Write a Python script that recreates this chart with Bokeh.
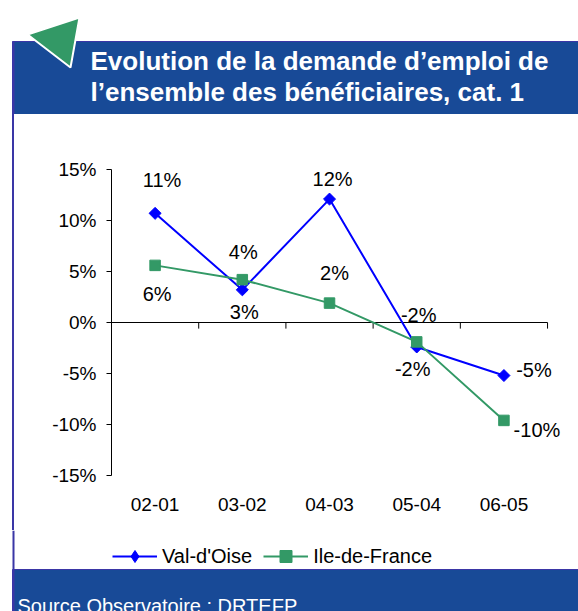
from bokeh.plotting import figure
from bokeh.layouts import column, row
from bokeh.models import (Range1d, FixedTicker, PrintfTickFormatter, Legend, LegendItem,
                          ColumnDataSource, Div)
from bokeh.embed import file_html
from bokeh.resources import INLINE
from bokeh.core.properties import value

# ---- data ----
periods = ["02-01", "03-02", "04-03", "05-04", "06-05"]
val_doise = [10.7, 3.2, 12.1, -2.4, -5.2]
ile_de_france = [5.6, 4.2, 1.9, -1.9, -9.6]
y_ticks = [-15, -10, -5, 0, 5, 10, 15]
title_lines = ["Evolution de la demande d\u2019emploi de",
               "l\u2019ensemble des b\u00e9n\u00e9ficiaires, cat. 1"]
source_text = "Source Observatoire : DRTEFP"

# label placement (pixel offsets, style only)
vdo_dx = [7, 2, 3, -4, 30]
vdo_dy = [-33, 22, -20, 22, -6]
idf_dx = [2, 1, 5, 2, 33]
idf_dy = [29, -28, -30, -27, 10]

BLUE_HDR = "#184A97"
BORDER = "#3A36A6"
LINE_BLUE = "#0000FF"
GREEN = "#339966"
FONT = "Liberation Sans"

W, H = 578, 611
HDR_H = 114
BOT_H = 81
MID_H = H - HDR_H - BOT_H
STRIP_W = 15


def canvas_fig(w, h):
    f = figure(width=w, height=h, x_range=Range1d(0, w), y_range=Range1d(h, 0),
               x_axis_type=None, y_axis_type=None, min_border=0,
               output_backend="svg", toolbar_location=None)
    f.outline_line_color = None
    f.grid.visible = False
    f.background_fill_color = "white"
    f.border_fill_color = "white"
    return f


# ---- header ----
hdr = canvas_fig(W, HDR_H)
hdr.quad(left=12, right=W + 2, top=41, bottom=HDR_H + 2, fill_color=BLUE_HDR,
         line_color=BORDER, line_width=1)
hdr.quad(left=12, right=14, top=41, bottom=HDR_H, fill_color=BORDER, line_color=None)
hdr.patch(x=[27, 79, 70], y=[34, 17, 67], fill_color=GREEN, line_color="white", line_width=2)
hdr.text(x=[90, 90], y=[60, 91], text=title_lines, text_font=value(FONT),
         text_font_style="bold", text_font_size="26px", text_color="white",
         text_baseline="alphabetic", text_align="left")

# ---- left border strip ----
strip = Div(text="", width=STRIP_W, height=MID_H, margin=0,
            styles={"background": "linear-gradient(to right, white 12px, %s 12px, %s 14px, white 14px)"
                                  % (BORDER, BORDER)})

# ---- main chart ----
n = len(periods)
xpos = [i + 0.5 for i in range(n)]
p = figure(width=W - STRIP_W, height=MID_H,
           x_range=Range1d(0, n + 0.355), y_range=Range1d(y_ticks[0], y_ticks[-1]),
           output_backend="svg", toolbar_location=None,
           min_border_left=96, min_border_right=0, min_border_top=55, min_border_bottom=55)
p.outline_line_color = None
p.grid.visible = False
p.background_fill_color = "white"
p.border_fill_color = "white"

ya = p.yaxis[0]
ya.ticker = FixedTicker(ticks=y_ticks)
ya.formatter = PrintfTickFormatter(format="%d%%")
ya.axis_line_color = "black"
ya.major_tick_out = 5
ya.major_tick_in = 0
ya.minor_tick_line_color = None
ya.major_label_standoff = 10
ya.major_label_text_font = FONT
ya.major_label_text_font_size = "19px"
ya.major_label_text_color = "black"

xa = p.xaxis[0]
xa.ticker = FixedTicker(ticks=xpos)
xa.major_label_overrides = {x: lab for x, lab in zip(xpos, periods)}
xa.axis_line_color = None
xa.major_tick_line_color = None
xa.minor_tick_line_color = None
xa.major_label_standoff = 16
xa.major_label_text_font = FONT
xa.major_label_text_font_size = "19px"
xa.major_label_text_color = "black"

# zero line with category boundary ticks
bounds = list(range(n + 1))
p.segment(x0=[0], x1=[n], y0=[0], y1=[0], line_color="black", line_width=1)
p.segment(x0=bounds, x1=bounds, y0=[0] * len(bounds), y1=[-0.6] * len(bounds),
          line_color="black", line_width=1)

vdo_src = ColumnDataSource(dict(x=xpos, y=val_doise,
                                lab=["%d%%" % round(v) for v in val_doise], dx=vdo_dx, dy=vdo_dy))
idf_src = ColumnDataSource(dict(x=xpos, y=ile_de_france,
                                lab=["%d%%" % round(v) for v in ile_de_france], dx=idf_dx, dy=idf_dy))

p.line("x", "y", source=vdo_src, line_color=LINE_BLUE, line_width=2)
p.scatter("x", "y", source=vdo_src, marker="square", angle=0.785398, size=8.5,
          fill_color=LINE_BLUE, line_color=LINE_BLUE)
p.line("x", "y", source=idf_src, line_color=GREEN, line_width=2)
p.scatter("x", "y", source=idf_src, marker="square", size=10.5,
          fill_color=GREEN, line_color=GREEN)

for src in (vdo_src, idf_src):
    p.text("x", "y", text="lab", source=src, x_offset="dx", y_offset="dy",
           text_align="center", text_baseline="middle", text_font=value(FONT),
           text_font_size="20px", text_color="black")

# ---- bottom: legend + footer ----
bot = canvas_fig(W, BOT_H)
bot.quad(left=12, right=14, top=0, bottom=39, fill_color=BORDER, line_color=None)
bot.quad(left=12, right=W + 2, top=39, bottom=BOT_H + 2, fill_color=BLUE_HDR,
         line_color=BORDER, line_width=1)
bot.quad(left=12, right=14, top=39, bottom=BOT_H, fill_color=BORDER, line_color=None)
bot.text(x=[17], y=[64], text=[source_text], text_font=value(FONT), text_font_size="20px",
         text_color="white", text_baseline="top", text_align="left")

# legend keys (hidden renderers sharing the series sources, used only for the legend swatches)
k1l = bot.line("x", "y", source=vdo_src, line_color=LINE_BLUE, line_width=2, visible=False)
k1m = bot.scatter("x", "y", source=vdo_src, marker="diamond", fill_color=LINE_BLUE,
                  line_color=LINE_BLUE, visible=False)
k2l = bot.line("x", "y", source=idf_src, line_color=GREEN, line_width=2, visible=False)
k2m = bot.scatter("x", "y", source=idf_src, marker="square", fill_color=GREEN,
                  line_color=GREEN, visible=False)

legend = Legend(items=[LegendItem(label="Val-d'Oise", renderers=[k1l, k1m]),
                       LegendItem(label="Ile-de-France", renderers=[k2l, k2m])],
                orientation="horizontal", location=(112, 40),
                glyph_width=45, glyph_height=30, label_standoff=5, spacing=11,
                padding=0, margin=0, border_line_color=None, background_fill_alpha=0,
                label_text_font=FONT, label_text_font_size="20px", label_text_color="black")
bot.add_layout(legend)

layout = column(hdr, row(strip, p, spacing=0), bot, spacing=0)
open("out.html", "w").write(file_html(layout, INLINE))
